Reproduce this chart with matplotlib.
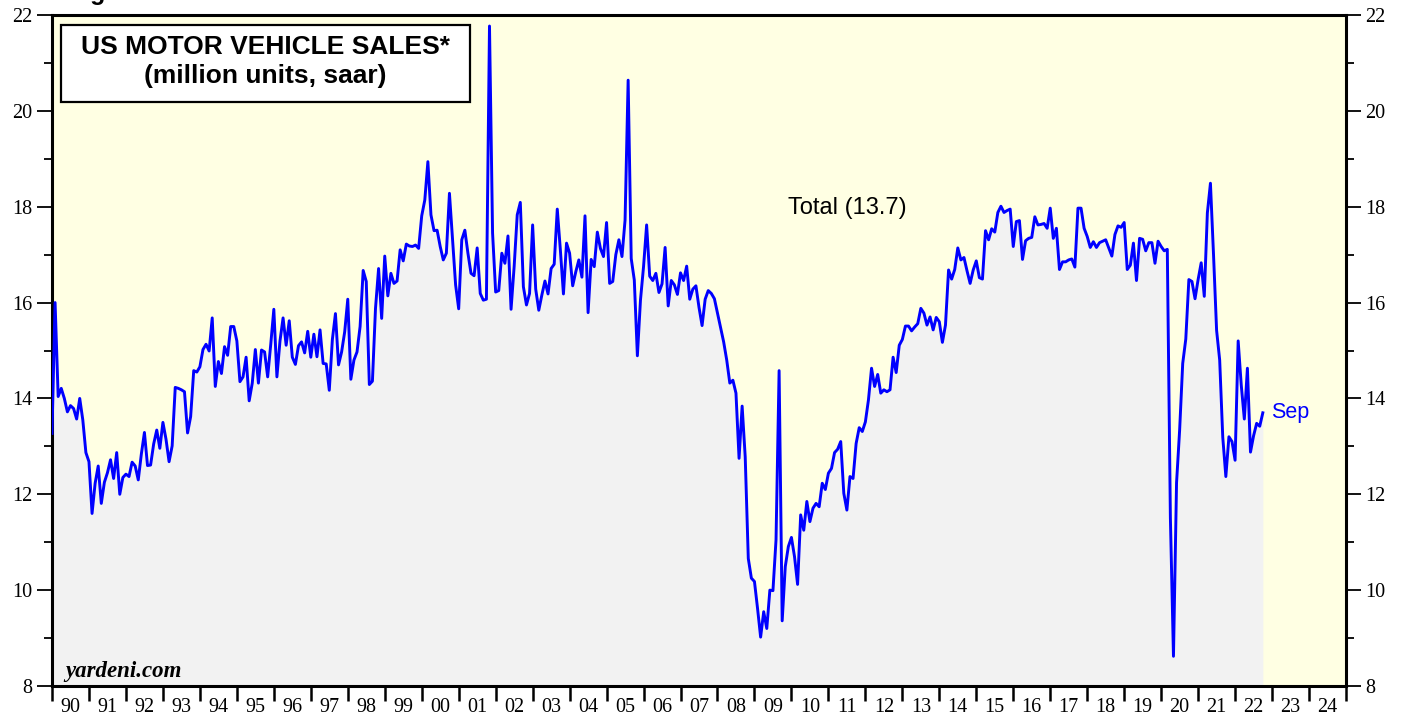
import numpy as np
import matplotlib
matplotlib.use("Agg")
import matplotlib.pyplot as plt
from matplotlib.patches import Rectangle
from matplotlib.ticker import FixedLocator, NullFormatter, FixedFormatter

# ---------------- data (million units, saar), monthly ----------------
start_value_dec_1989 = 13.27
sales_1990 = [16.0, 14.04, 14.21, 14.0, 13.72, 13.85, 13.79, 13.57, 14.0, 13.55, 12.87, 12.68]
sales_1991 = [11.6, 12.23, 12.59, 11.81, 12.25, 12.45, 12.72, 12.33, 12.87, 12.0, 12.35, 12.42]
sales_1992 = [12.37, 12.67, 12.59, 12.30, 12.84, 13.29, 12.6, 12.61, 13.05, 13.34, 12.96, 13.5]
sales_1993 = [13.15, 12.68, 13.01, 14.23, 14.21, 14.18, 14.14, 13.28, 13.62, 14.58, 14.55, 14.66]
sales_1994 = [15.02, 15.13, 14.99, 15.68, 14.25, 14.77, 14.52, 15.08, 14.9, 15.5, 15.5, 15.2]
sales_1995 = [14.35, 14.45, 14.86, 13.95, 14.32, 15.02, 14.32, 15.01, 14.97, 14.45, 15.13, 15.86]
sales_1996 = [14.45, 15.2, 15.68, 15.11, 15.62, 14.86, 14.71, 15.1, 15.18, 14.95, 15.4, 14.86]
sales_1997 = [15.34, 14.87, 15.43, 14.73, 14.72, 14.17, 15.23, 15.77, 14.7, 14.97, 15.39, 16.07]
sales_1998 = [14.4, 14.8, 14.97, 15.5, 16.67, 16.44, 14.29, 14.36, 15.88, 16.71, 15.67, 16.97]
sales_1999 = [16.14, 16.61, 16.40, 16.45, 17.1, 16.87, 17.22, 17.18, 17.17, 17.2, 17.13, 17.81]
sales_2000 = [18.14, 18.94, 17.83, 17.5, 17.51, 17.17, 16.89, 17.03, 18.28, 17.31, 16.37, 15.87]
sales_2001 = [17.31, 17.51, 17.03, 16.61, 16.56, 17.14, 16.19, 16.05, 16.07, 21.77, 17.45, 16.22]
sales_2002 = [16.25, 17.03, 16.82, 17.39, 15.86, 16.75, 17.83, 18.09, 16.33, 15.95, 16.19, 17.62]
sales_2003 = [16.28, 15.84, 16.16, 16.45, 16.18, 16.71, 16.8, 17.95, 17.1, 16.18, 17.24, 17.03]
sales_2004 = [16.35, 16.64, 16.89, 16.53, 17.81, 15.79, 16.9, 16.75, 17.47, 17.13, 16.96, 17.67]
sales_2005 = [16.40, 16.44, 17.0, 17.31, 16.96, 17.72, 20.64, 16.92, 16.47, 14.89, 16.05, 16.75]
sales_2006 = [17.62, 16.55, 16.46, 16.61, 16.21, 16.39, 17.15, 15.93, 16.46, 16.37, 16.17, 16.62]
sales_2007 = [16.46, 16.76, 16.07, 16.28, 16.35, 15.90, 15.52, 16.07, 16.25, 16.19, 16.08, 15.78]
sales_2008 = [15.47, 15.18, 14.80, 14.32, 14.38, 14.11, 12.75, 13.84, 12.78, 10.66, 10.25, 10.18]
sales_2009 = [9.62, 9.02, 9.55, 9.2, 10.0, 9.99, 11.05, 14.58, 9.36, 10.49, 10.91, 11.10]
sales_2010 = [10.70, 10.12, 11.57, 11.25, 11.85, 11.43, 11.71, 11.81, 11.74, 12.23, 12.10, 12.44]
sales_2011 = [12.54, 12.87, 12.94, 13.1, 12.02, 11.67, 12.37, 12.33, 13.06, 13.39, 13.31, 13.51]
sales_2012 = [13.97, 14.63, 14.25, 14.5, 14.11, 14.18, 14.14, 14.18, 14.86, 14.54, 15.11, 15.23]
sales_2013 = [15.51, 15.51, 15.41, 15.49, 15.56, 15.88, 15.78, 15.53, 15.7, 15.43, 15.69, 15.6]
sales_2014 = [15.17, 15.53, 16.68, 16.49, 16.69, 17.14, 16.89, 16.94, 16.66, 16.40, 16.68, 16.87]
sales_2015 = [16.52, 16.49, 17.5, 17.31, 17.54, 17.47, 17.88, 18.01, 17.88, 17.92, 17.95, 17.17]
sales_2016 = [17.69, 17.71, 16.9, 17.29, 17.34, 17.36, 17.79, 17.62, 17.63, 17.65, 17.55, 17.97]
sales_2017 = [17.34, 17.55, 16.69, 16.85, 16.85, 16.89, 16.91, 16.74, 17.97, 17.97, 17.55, 17.38]
sales_2018 = [17.15, 17.27, 17.15, 17.25, 17.28, 17.31, 17.14, 16.97, 17.42, 17.6, 17.57, 17.67]
sales_2019 = [16.69, 16.78, 17.24, 16.46, 17.34, 17.32, 17.08, 17.25, 17.25, 16.82, 17.28, 17.17]
sales_2020 = [17.08, 17.11, 11.51, 8.62, 12.24, 13.34, 14.73, 15.24, 16.48, 16.44, 16.08, 16.48]
sales_2021 = [16.83, 16.13, 17.87, 18.49, 17.0, 15.42, 14.80, 13.19, 12.37, 13.2, 13.1, 12.71]
sales_2022 = [15.2, 14.28, 13.57, 14.63, 12.88, 13.22, 13.48, 13.42, 13.7]

year_lists = [sales_1990, sales_1991, sales_1992, sales_1993, sales_1994, sales_1995,
              sales_1996, sales_1997, sales_1998, sales_1999, sales_2000, sales_2001,
              sales_2002, sales_2003, sales_2004, sales_2005, sales_2006, sales_2007,
              sales_2008, sales_2009, sales_2010, sales_2011, sales_2012, sales_2013,
              sales_2014, sales_2015, sales_2016, sales_2017, sales_2018, sales_2019,
              sales_2020, sales_2021, sales_2022]

year_labels = ["90", "91", "92", "93", "94", "95", "96", "97", "98", "99",
               "00", "01", "02", "03", "04", "05", "06", "07", "08", "09",
               "10", "11", "12", "13", "14", "15", "16", "17", "18", "19",
               "20", "21", "22", "23", "24"]
first_year = 1990
last_label = "Sep"
total_label = "Total (13.7)"

# build series: each month plotted at month end
values = [start_value_dec_1989]
for yl in year_lists:
    values.extend(yl)
values = np.array(values)
x = first_year + np.arange(len(values)) / 12.0

# ---------------- figure ----------------
W, H = 1407, 719
fig = plt.figure(figsize=(W / 100, H / 100), dpi=100)
left, right, top, bottom = 52, 1346, 15, 686
ax = fig.add_axes([left / W, 1 - bottom / H, (right - left) / W, (bottom - top) / H])

ax.set_facecolor("#FFFFE3")
ax.fill_between(x, values, 8, color="#F2F2F2", lw=0, zorder=1)
ax.plot(x, values, color="#0000FF", lw=2.1, zorder=3, solid_joinstyle="round")

ax.set_xlim(first_year, first_year + len(year_labels))
ax.set_ylim(8, 22)

serif = ["Liberation Serif", "DejaVu Serif"]
sans = ["Liberation Sans", "DejaVu Sans"]

# y axis: both sides
yt = np.arange(8, 23, 2)
ax.set_yticks(yt)
ax.set_yticklabels([str(v) for v in yt], family=serif, fontsize=14.5)
ax.yaxis.set_minor_locator(FixedLocator(np.arange(9, 22, 2)))
ax.tick_params(axis="y", which="major", direction="out", length=11, width=1.3,
               left=True, right=True, labelleft=True, labelright=True, pad=3)
ax.tick_params(axis="y", which="minor", direction="out", length=6, width=1.3,
               left=True, right=True)

# x axis: ticks at year boundaries, labels centered
years = np.arange(first_year, first_year + len(year_labels) + 1)
ax.xaxis.set_major_locator(FixedLocator(years))
ax.xaxis.set_major_formatter(NullFormatter())
ax.xaxis.set_minor_locator(FixedLocator(years[:-1] + 0.5))
ax.xaxis.set_minor_formatter(FixedFormatter(year_labels))
ax.tick_params(axis="x", which="major", direction="out", length=11, width=1.8)
ax.tick_params(axis="x", which="minor", length=0, pad=9)
for lab in ax.xaxis.get_minorticklabels():
    lab.set_family(serif)
    lab.set_fontsize(14.5)

for s in ax.spines.values():
    s.set_linewidth(2.2)
    s.set_color("black")

# title box
box = Rectangle(((61 - left) / (right - left), 1 - (102 - top) / (bottom - top)),
                (470 - 61) / (right - left), (102 - 25) / (bottom - top),
                transform=ax.transAxes, facecolor="white", edgecolor="black",
                lw=1.6, zorder=5)
ax.add_patch(box)
cx = (265.5 - left) / (right - left)
ax.text(cx, 1 - (47 - top) / (bottom - top), "US MOTOR VEHICLE SALES*", transform=ax.transAxes,
        ha="center", va="center", family=sans, fontweight="bold", fontsize=19, zorder=6)
ax.text(cx, 1 - (76 - top) / (bottom - top), "(million units, saar)", transform=ax.transAxes,
        ha="center", va="center", family=sans, fontweight="bold", fontsize=19, zorder=6)

ax.text((847 - left) / (right - left), 1 - (208 - top) / (bottom - top), total_label,
        transform=ax.transAxes, ha="center", va="center", family=sans, fontsize=17, zorder=6)

ax.annotate(last_label, xy=(x[-1], values[-1]), xytext=(6, 0), textcoords="offset points",
            ha="left", va="center", color="#0000FF", family=sans, fontsize=15.5, zorder=6)

ax.text((65 - left) / (right - left), (686 - 671) / (bottom - top), "yardeni.com",
        transform=ax.transAxes, ha="left", va="center", family=serif, fontweight="bold",
        style="italic", fontsize=16.5, zorder=6)

# clipped page header (only a descender shows at top)
fig.text(68 / W, 1.0, "Figure", ha="left", va="baseline", family=sans,
         fontweight="bold", fontsize=18)

fig.savefig("out.png", dpi=100)
